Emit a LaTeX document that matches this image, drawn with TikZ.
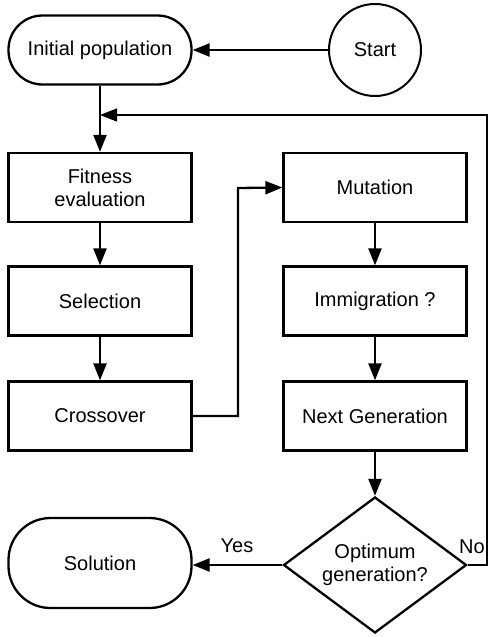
\documentclass[tikz,border=0pt]{standalone}
\usepackage{fontspec}
\setmainfont{Liberation Sans}
\usetikzlibrary{shapes.geometric,arrows.meta}
\begin{document}
\begin{tikzpicture}[x=1pt,y=-1pt,
  lbl/.style={font=\fontsize{20}{23}\selectfont, align=center},
  box/.style={lbl, draw, line width=2.3pt, minimum width=183pt, minimum height=69pt, inner sep=0pt},
  term/.style={box, rounded corners=34pt},
  startc/.style={lbl, draw, circle, line width=2pt, minimum size=92pt, inner sep=0pt},
  decision/.style={lbl, draw, diamond, line width=2.3pt, minimum width=183pt, minimum height=136pt, aspect=1.35, inner sep=0pt},
  conn/.style={line width=2.3pt, -{Triangle[length=17pt,width=13pt]}},
  thinconn/.style={line width=1.2pt, -{Triangle[length=17pt,width=13pt]}}
]
\useasboundingbox (0,0) rectangle (488,637);
\node[term] (init) at (100,50) {Initial population};
\node[startc] (start) at (375,50) {Start};
\node[box] (fit) at (100,187.5) {Fitness\\evaluation};
\node[box] (sel) at (100,301) {Selection};
\node[box] (cross) at (100,416) {Crossover};
\node[box] (mut) at (375,187.5) {Mutation};
\node[box] (imm) at (375,301) {Immigration ?};
\node[box] (next) at (375,416) {Next Generation};
\node[decision] (dia) at (375,565) {Optimum\\generation?};
\node[box, minimum height=90pt, rounded corners=42pt] (sol) at (100,563) {Solution};
\node[lbl] (yes) at (237,546) {Yes};
\node[lbl] (no) at (472,547) {No};
\coordinate (fb) at (100,115);
\coordinate (fbr) at (487,115);
\coordinate (fbd) at (487,565);
\coordinate (cx) at (238,188);

\draw[conn] (start) -- (init);
\draw[conn] (init) -- (fit);
\draw[conn] (fit) -- (sel);
\draw[conn] (sel) -- (cross);
\draw[conn] (cross.east) -| (cx) -- (mut.west);
\draw[conn] (mut) -- (imm);
\draw[conn] (imm) -- (next);
\draw[conn] (next) -- (dia);
\draw[conn] (dia.west) -- (sol.east |- dia.west);
\draw[thinconn] (dia.east) -- (fbd) -- (fbr) -- (fb);
\end{tikzpicture}
\end{document}
